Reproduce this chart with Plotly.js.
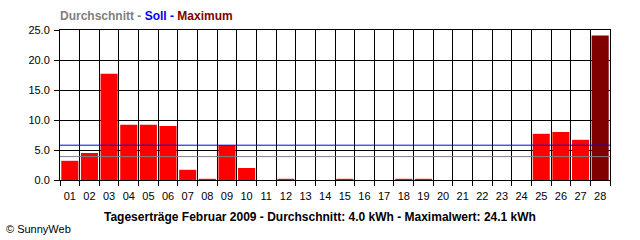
<!DOCTYPE html>
<html>
<head>
<meta charset="utf-8">
<script src="https://cdn.plot.ly/plotly-3.0.1.min.js"></script>
<style>html,body{margin:0;padding:0;background:#fff;}#chart{width:640px;height:240px;}</style>
</head>
<body>
<div id="chart"></div>
<script>
const days = ["01","02","03","04","05","06","07","08","09","10","11","12","13","14","15","16","17","18","19","20","21","22","23","24","25","26","27","28"];
const yields = [3.2,4.5,17.7,9.2,9.2,9.0,1.7,0.2,5.8,2.0,0,0.2,0,0,0.2,0,0,0.2,0.2,0,0,0,0,0,7.7,8.0,6.7,24.1];
const average = 3.9;
const target = 5.8;
const yTicks = [0,5,10,15,20,25];

const maxVal = Math.max(...yields);
const barColors = yields.map(v => v === maxVal ? "#800000" : "#ff0000");
const FONT = "Liberation Sans, Arial, sans-serif";

const trace = {
  type: "bar",
  x: days,
  y: yields,
  marker: {color: barColors, line: {width: 0}},
  hoverinfo: "x+y"
};

const layout = {
  width: 640, height: 240,
  margin: {l: 60, r: 30, t: 30, b: 60},
  paper_bgcolor: "#ffffff",
  plot_bgcolor: "#ffffff",
  font: {family: FONT, size: 11, color: "#000"},
  showlegend: false,
  bargap: 0.13,
  title: {
    text: '<span style="color:#808080">Durchschnitt - </span><span style="color:#0000ff">Soll - </span><span style="color:#800000">Maximum</span>',
    font: {family: FONT, size: 12, weight: "bold"},
    x: 60/640, xanchor: "left", xref: "container",
    y: 1 - 16/240, yanchor: "middle", yref: "container"
  },
  xaxis: {
    type: "category",
    tickson: "boundaries",
    tickangle: 0,
    ticklabelstandoff: 6,
    showgrid: true, gridcolor: "#000", gridwidth: 1,
    ticks: "outside", ticklen: 5, tickcolor: "#000", tickwidth: 1,
    showline: true, linecolor: "#000", linewidth: 1, mirror: true,
    tickfont: {family: FONT, size: 11, color: "#000"},
    fixedrange: true
  },
  yaxis: {
    range: [0, 25],
    tickvals: yTicks,
    tickformat: ".1f",
    ticklabelstandoff: 2,
    showgrid: true, gridcolor: "#000", gridwidth: 1,
    zeroline: false,
    ticks: "outside", ticklen: 5, tickcolor: "#000", tickwidth: 1,
    showline: true, linecolor: "#000", linewidth: 1, mirror: true,
    tickfont: {family: FONT, size: 11, color: "#000"},
    fixedrange: true
  },
  shapes: [
    {type: "line", xref: "paper", yref: "y", x0: 0, x1: 1, y0: average, y1: average, line: {color: "#808080", width: 1}, layer: "above"},
    {type: "line", xref: "paper", yref: "y", x0: 0, x1: 1, y0: target, y1: target, line: {color: "#0000ff", width: 1}, layer: "above"}
  ],
  annotations: [
    {
      text: "<b>Tageserträge Februar 2009 - Durchschnitt: 4.0 kWh - Maximalwert: 24.1 kWh</b>",
      xref: "paper", yref: "paper", x: (320-60)/550, y: -(217-180)/150,
      xanchor: "center", yanchor: "middle", showarrow: false,
      font: {family: FONT, size: 12, color: "#000"}
    },
    {
      text: "© SunnyWeb",
      xref: "paper", yref: "paper", x: (4-60)/550, y: -(229-180)/150,
      xanchor: "left", yanchor: "middle", showarrow: false,
      font: {family: FONT, size: 11, color: "#000"}
    }
  ]
};

Plotly.newPlot("chart", [trace], layout, {displayModeBar: false, staticPlot: true});
</script>
</body>
</html>
